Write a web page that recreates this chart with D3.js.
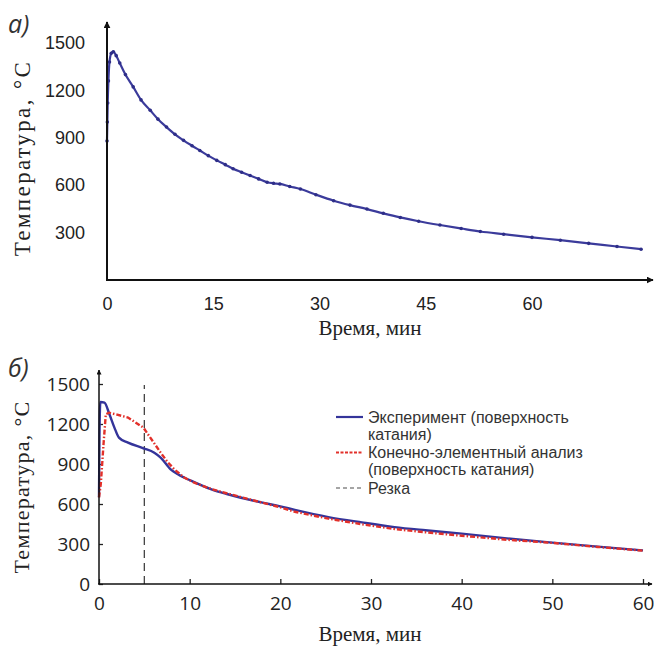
<!DOCTYPE html>
<html lang="ru">
<head>
<meta charset="UTF-8">
<title>Температура</title>
<style>
    body { margin: 0; background: #fff; }
    svg { display: block; }
    .tickA text { font-family: "Liberation Sans", Arial, sans-serif; font-size: 18px; fill: #222; }
    .tickB text { font-family: "Open Sans", sans-serif; font-size: 19px; fill: #222; }
    .title { font-family: "Liberation Serif", "Times New Roman", serif; font-size: 21px; fill: #222; }
    .panel { font-family: "Open Sans", sans-serif; font-style: italic; font-size: 25px; fill: #333; }
    .legend { font-family: "Liberation Sans", Arial, sans-serif; font-size: 16px; fill: #333; }
</style>
</head>
<body>
<svg id="chart"></svg>
<script src="https://cdnjs.cloudflare.com/ajax/libs/d3/7.8.5/d3.min.js"></script>
<script>
// panel a) - experiment, surface temperature
var timeA = [0, 0.05, 0.1, 0.2, 0.35, 0.6, 0.9, 1.3, 1.8, 2.6, 3.7, 4.8, 6.1, 7.2, 8.4, 9.6,
             10.8, 12, 13.1, 14.3, 15.5, 16.7, 17.8, 19, 20.2, 21.4, 22.6, 23.5, 24.4, 25.8,
             27.3, 29.5, 32, 34.3, 36.7, 39, 41.4, 44, 47, 50, 52.7, 56, 60, 64, 68, 72, 75.4];
var tempA = [880, 1000, 1120, 1260, 1380, 1435, 1445, 1420, 1373, 1300, 1222, 1140, 1074, 1018, 968, 922,
             884, 850, 820, 787, 757, 730, 704, 682, 661, 640, 619, 612, 608, 592,
             576, 540, 502, 474, 449, 422, 396, 372, 348, 326, 307, 290, 270, 252, 232, 212, 195];
var ticksXA = [0, 15, 30, 45, 60];
var ticksYA = [300, 600, 900, 1200, 1500];

// panel б) - experiment vs FEA
var timeExp = [0, 0.05, 0.15, 0.6, 1.15, 1.7, 2.2, 3.2, 4.9, 6.1, 6.8, 7.9, 8.7, 10.2, 12.4, 14.2,
               17.9, 20, 21.6, 25.3, 29, 32.6, 36, 40, 45, 50, 55, 60];
var tempExp = [650, 1100, 1365, 1360, 1273, 1173, 1098, 1060, 1018, 985, 948, 860, 823, 773, 710, 673,
               612, 582, 556, 502, 462, 427, 403, 378, 342, 310, 280, 252];
var timeFea = [0, 0.2, 0.5, 0.75, 1.1, 2, 3.2, 4.9, 5.4, 6.1, 6.8, 7.5, 8.3, 9.4, 10.5, 12.4, 14.2,
               17.9, 20, 21.6, 25.3, 29, 32.6, 36, 40, 45, 50, 55, 60];
var tempFea = [650, 750, 1050, 1273, 1285, 1270, 1248, 1173, 1123, 1055, 985, 920, 860, 798, 760, 712, 678,
               612, 575, 542, 490, 448, 412, 388, 362, 332, 308, 278, 250];
var cutTime = 5;
var ticksXB = [0, 10, 20, 30, 40, 50, 60];
var ticksYB = [0, 300, 600, 900, 1200, 1500];
var legendLabels = [["Эксперимент (поверхность", "катания)"],
                    ["Конечно-элементный анализ", "(поверхность катания)"],
                    ["Резка"]];

var W = 654, H = 654;
var svg = d3.select("#chart").attr("width", W).attr("height", H);

var defs = svg.append("defs");
defs.append("marker")
    .attr("id", "arrow")
    .attr("viewBox", "0 0 10 10")
    .attr("refX", 9).attr("refY", 5)
    .attr("markerWidth", 5).attr("markerHeight", 5)
    .attr("markerUnits", "userSpaceOnUse")
    .attr("orient", "auto")
    .append("path")
    .attr("d", "M0,0 L10,5 L0,10 z")
    .attr("fill", "#111");
// bigger arrow for panel a
defs.append("marker")
    .attr("id", "arrowA")
    .attr("viewBox", "0 0 10 10")
    .attr("refX", 9).attr("refY", 5)
    .attr("markerWidth", 7).attr("markerHeight", 7)
    .attr("markerUnits", "userSpaceOnUse")
    .attr("orient", "auto")
    .append("path")
    .attr("d", "M0,0 L10,5 L0,10 z")
    .attr("fill", "#111");

var fmt = d3.format("d");

// ---------- panel a ----------
var xA = d3.scaleLinear().domain([0, 60]).range([107, 532]);
var yA = d3.scaleLinear().domain([0, 1500]).range([280, 43]);

var gA = svg.append("g");

gA.append("g")
    .attr("class", "tickA")
    .attr("transform", "translate(" + xA(0) + ",0)")
    .call(d3.axisLeft(yA).tickValues(ticksYA).tickFormat(fmt).tickSize(0).tickPadding(22))
    .call(function(g) { g.select(".domain").remove(); });

gA.append("g")
    .attr("class", "tickA")
    .attr("transform", "translate(0," + yA(0) + ")")
    .call(d3.axisBottom(xA).tickValues(ticksXA).tickFormat(fmt).tickSize(0).tickPadding(17))
    .call(function(g) { g.select(".domain").remove(); });

var lineA = d3.line()
    .x(function(d) { return xA(d[0]); })
    .y(function(d) { return yA(d[1]); })
    .curve(d3.curveMonotoneX);
var dataA = timeA.map(function(t, i) { return [t, tempA[i]]; });

gA.append("path")
    .datum(dataA)
    .attr("d", lineA)
    .attr("fill", "none")
    .attr("stroke", "#3b3b9b")
    .attr("stroke-width", 2.2);

gA.selectAll("circle")
    .data(dataA)
    .enter()
    .append("circle")
    .attr("cx", function(d) { return xA(d[0]); })
    .attr("cy", function(d) { return yA(d[1]); })
    .attr("r", 1.8)
    .attr("fill", "#2e2e88");

// axes with arrows
gA.append("line")
    .attr("x1", xA(0)).attr("y1", yA(0))
    .attr("x2", xA(0)).attr("y2", 22)
    .attr("stroke", "#111").attr("stroke-width", 2)
    .attr("marker-end", "url(#arrowA)");
gA.append("line")
    .attr("x1", xA(0) - 1).attr("y1", yA(0))
    .attr("x2", 653).attr("y2", yA(0))
    .attr("stroke", "#111").attr("stroke-width", 2)
    .attr("marker-end", "url(#arrowA)");

gA.append("text")
    .attr("class", "title")
    .attr("x", 370).attr("y", 335)
    .attr("text-anchor", "middle")
    .text("Время,  мин");

gA.append("text")
    .attr("class", "title")
    .attr("transform", "translate(30,158) rotate(-90)")
    .attr("text-anchor", "middle")
    .style("font-size", "23px")
    .style("letter-spacing", "2.4px")
    .text("Температура,   °С");

gA.append("text")
    .attr("class", "panel")
    .attr("x", 8).attr("y", 33)
    .text("а)");

// ---------- panel б ----------
var xB = d3.scaleLinear().domain([0, 60]).range([99, 643]);
var yB = d3.scaleLinear().domain([0, 1500]).range([584, 384]);

var gB = svg.append("g");

gB.append("g")
    .attr("class", "tickB")
    .attr("transform", "translate(" + xB(0) + ",0)")
    .call(d3.axisLeft(yB).tickValues(ticksYB).tickFormat(fmt).tickSizeInner(-4).tickSizeOuter(0).tickPadding(9))
    .call(function(g) { g.select(".domain").remove(); })
    .call(function(g) { g.selectAll("line").attr("stroke", "#222").attr("stroke-width", 1.3); });

gB.append("g")
    .attr("class", "tickB")
    .attr("transform", "translate(0," + yB(0) + ")")
    .call(d3.axisBottom(xB).tickValues(ticksXB).tickFormat(fmt).tickSizeInner(-5).tickSizeOuter(0).tickPadding(13))
    .call(function(g) { g.select(".domain").remove(); })
    .call(function(g) { g.selectAll("line").attr("stroke", "#222").attr("stroke-width", 1.3); });

// cut marker
gB.append("line")
    .attr("x1", xB(cutTime)).attr("x2", xB(cutTime))
    .attr("y1", yB(0)).attr("y2", 385)
    .attr("stroke", "#444")
    .attr("stroke-width", 1.3)
    .attr("stroke-dasharray", "8,5");

var lineB = d3.line()
    .x(function(d) { return xB(d[0]); })
    .y(function(d) { return yB(d[1]); })
    .curve(d3.curveMonotoneX);
var lineFea = d3.line()
    .x(function(d) { return xB(d[0]); })
    .y(function(d) { return yB(d[1]); });

gB.append("path")
    .datum(timeExp.map(function(t, i) { return [t, tempExp[i]]; }))
    .attr("d", lineB)
    .attr("fill", "none")
    .attr("stroke", "#34349a")
    .attr("stroke-width", 2.4);

gB.append("path")
    .datum(timeFea.map(function(t, i) { return [t, tempFea[i]]; }))
    .attr("d", lineFea)
    .attr("fill", "none")
    .attr("stroke", "#e2302a")
    .attr("stroke-width", 2.4)
    .attr("stroke-dasharray", "5,2,1.5,2");

gB.append("line")
    .attr("x1", xB(0)).attr("y1", yB(0))
    .attr("x2", xB(0)).attr("y2", 370)
    .attr("stroke", "#111").attr("stroke-width", 1.5)
    .attr("marker-end", "url(#arrow)");
gB.append("line")
    .attr("x1", xB(0) - 1).attr("y1", yB(0))
    .attr("x2", 652).attr("y2", yB(0))
    .attr("stroke", "#111").attr("stroke-width", 1.5)
    .attr("marker-end", "url(#arrow)");

gB.append("text")
    .attr("class", "title")
    .attr("x", 370).attr("y", 641)
    .attr("text-anchor", "middle")
    .text("Время,  мин");

gB.append("text")
    .attr("class", "title")
    .attr("transform", "translate(29,487) rotate(-90)")
    .attr("text-anchor", "middle")
    .style("font-size", "22px")
    .style("letter-spacing", "1.3px")
    .text("Температура,  °С");

gB.append("text")
    .attr("class", "panel")
    .attr("x", 8).attr("y", 377)
    .text("б)");

// legend
var legendStyles = [
    {stroke: "#34349a", dash: null, width: 2.2},
    {stroke: "#e2302a", dash: "3,1.5", width: 2},
    {stroke: "#888", dash: "4,3", width: 1.5}
];
var legend = gB.append("g").attr("transform", "translate(336,417)");
var rowY = 0;
legendLabels.forEach(function(lines, i) {
    var st = legendStyles[i];
    legend.append("line")
        .attr("x1", 0).attr("x2", 27)
        .attr("y1", rowY).attr("y2", rowY)
        .attr("stroke", st.stroke)
        .attr("stroke-width", st.width)
        .attr("stroke-dasharray", st.dash);
    lines.forEach(function(s, j) {
        legend.append("text")
            .attr("class", "legend")
            .attr("x", 32)
            .attr("y", rowY + j * 17)
            .attr("dy", "0.35em")
            .text(s);
    });
    rowY += lines.length * 17 + 1.5;
});
</script>
</body>
</html>
